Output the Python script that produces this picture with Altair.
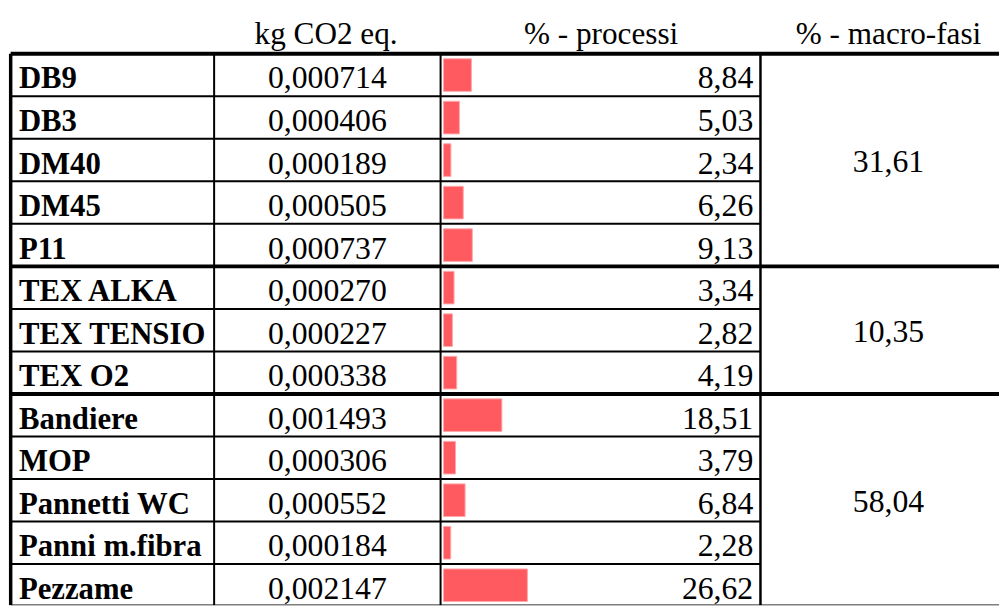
import altair as alt
import pandas as pd

# ---------------- data ----------------
names = ["DB9", "DB3", "DM40", "DM45", "P11",
         "TEX ALKA", "TEX TENSIO", "TEX O2",
         "Bandiere", "MOP", "Pannetti WC", "Panni m.fibra", "Pezzame"]
kg_co2 = [0.000714, 0.000406, 0.000189, 0.000505, 0.000737,
          0.000270, 0.000227, 0.000338,
          0.001493, 0.000306, 0.000552, 0.000184, 0.002147]
pct_processi = [8.84, 5.03, 2.34, 6.26, 9.13,
                3.34, 2.82, 4.19,
                18.51, 3.79, 6.84, 2.28, 26.62]
group_sizes = [5, 3, 5]
pct_macro = [31.61, 10.35, 58.04]
headers = ["kg CO2 eq.", "% - processi", "% - macro-fasi"]

# ---------------- layout (chart pixels) ----------------
W, H = 1000, 600
ROW_H = 42.9
TOP = 43.5
FONT = "Liberation Serif"
FS_NAME = 31
FS_VAL = 32
FS_HDR = 31.5
X_LEFT = 2.7
X_B1 = 208.0
X_B2 = 436.5
X_B3 = 759.3
X_RIGHT = float(W)
NAME_X = 11.0
PCT_RIGHT = 752.0
HEADER_X = [321.0, 598.5, 888.5]
BAR_X0 = 439.5
PX_PER_PCT = 3.18
Y_MAX = (H - TOP) / ROW_H

n = len(names)
rows = pd.DataFrame({
    "name": names,
    "kg": kg_co2,
    "pct": pct_processi,
    "row": list(range(n)),
})
rows["row1"] = rows["row"] + 1
rows["zero"] = 0.0

starts = [sum(group_sizes[:i]) for i in range(len(group_sizes))]
groups = pd.DataFrame({
    "center": [s + g / 2 for s, g in zip(starts, group_sizes)],
    "macro": pct_macro,
})
group_bounds = set(starts + [n])

hl = pd.DataFrame({"y": list(range(n + 1))})
hl["thick"] = hl["y"].isin(group_bounds)
hl["x1"] = X_LEFT
hl["x2"] = [X_RIGHT if t else X_B3 for t in hl["thick"]]
hl["w"] = [4.0 if t else 2.0 for t in hl["thick"]]

vl = pd.DataFrame({
    "x": [X_LEFT, X_B1, X_B2, X_B3],
    "w": [3.5, 2.0, 2.0, 2.5],
})
vl["y1"] = 0
vl["y2"] = Y_MAX

hdr = pd.DataFrame({"text": headers, "x": HEADER_X, "y": [-1] * 3})

y_scale = alt.Scale(domain=[-TOP / ROW_H, Y_MAX], reverse=True,
                    nice=False, zero=False)
x_scale = alt.Scale(domain=[0, W], nice=False, zero=False)
bar_scale = alt.Scale(domain=[0, W / PX_PER_PCT], nice=False, zero=False)


def xd(v):
    return alt.XDatum(v, type="quantitative", scale=x_scale, axis=None)


Y = alt.Y("row:Q", scale=y_scale, axis=None)

bars = alt.Chart(rows).mark_bar(
    xOffset=BAR_X0, x2Offset=BAR_X0, yOffset=5, y2Offset=-5,
    color="#FF5A5F", stroke="#FFA9AC", strokeWidth=1, clip=True,
).encode(
    x=alt.X("pct:Q", scale=bar_scale, axis=None),
    x2="zero:Q",
    y=Y,
    y2="row1:Q",
)

name_txt = alt.Chart(rows).mark_text(
    align="left", fontWeight="bold", font=FONT, fontSize=FS_NAME,
    color="#000000", baseline="alphabetic", dy=35,
).encode(x=xd(NAME_X), y=Y, text="name:N")

val_common = dict(font=FONT, fontSize=FS_VAL, color="#000000", baseline="alphabetic", dy=35)

kg_txt = alt.Chart(rows).transform_calculate(
    t="replace(format(datum.kg, '.6f'), '.', ',')"
).mark_text(align="center", **val_common).encode(
    x=xd((X_B1 + X_B2) / 2), y=Y, text="t:N")

pct_txt = alt.Chart(rows).transform_calculate(
    t="replace(format(datum.pct, '.2f'), '.', ',')"
).mark_text(align="right", **val_common).encode(
    x=xd(PCT_RIGHT), y=Y, text="t:N")

macro_txt = alt.Chart(groups).transform_calculate(
    t="replace(format(datum.macro, '.2f'), '.', ',')"
).mark_text(align="center", font=FONT, fontSize=FS_VAL, color="#000000",
            baseline="alphabetic", dy=12).encode(
    x=xd(888.5), y=alt.Y("center:Q", scale=y_scale, axis=None), text="t:N")

hdr_txt = alt.Chart(hdr).mark_text(align="center", font=FONT, fontSize=FS_HDR,
                                   color="#000000", baseline="alphabetic", dy=33.4).encode(
    x=alt.X("x:Q", scale=x_scale, axis=None),
    y=alt.Y("y:Q", scale=y_scale, axis=None),
    text="text:N")

hrules = alt.Chart(hl).mark_rule(color="#000000", clip=True).encode(
    x=alt.X("x1:Q", scale=x_scale, axis=None),
    x2="x2:Q",
    y=alt.Y("y:Q", scale=y_scale, axis=None),
    strokeWidth=alt.StrokeWidth("w:Q", scale=None, legend=None),
)

vrules = alt.Chart(vl).mark_rule(color="#000000", clip=True).encode(
    x=alt.X("x:Q", scale=x_scale, axis=None),
    y=alt.Y("y1:Q", scale=y_scale, axis=None),
    y2="y2:Q",
    strokeWidth=alt.StrokeWidth("w:Q", scale=None, legend=None),
)

chart = alt.layer(
    bars, hrules, vrules, name_txt, kg_txt, pct_txt, macro_txt, hdr_txt
).resolve_scale(
    x="independent"
).properties(
    width=W, height=H, padding=0,
    autosize=alt.AutoSizeParams(type="none"),
    background="#FFFFFF",
).configure_view(stroke=None)

chart.save("out.html", embed_options={"renderer": "svg", "actions": False})
